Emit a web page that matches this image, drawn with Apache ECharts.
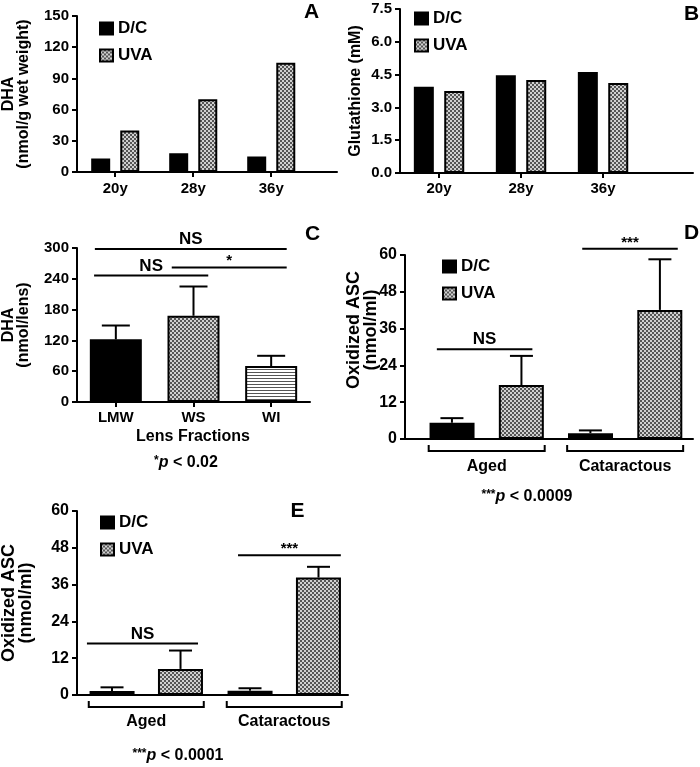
<!DOCTYPE html>
<html><head><meta charset="utf-8">
<script src="https://cdn.jsdelivr.net/npm/echarts@6/dist/echarts.min.js"></script>
<style>html,body{margin:0;padding:0;background:#fff}#c{width:700px;height:767px}</style>
</head><body><div id="c"></div>
<script>
// ---------------- data ----------------
const ageCats = ['20y', '28y', '36y'];
const dhaDC = [13, 18, 15];
const dhaUVA = [40, 70, 105];
const gshDC = [3.95, 4.47, 4.62];
const gshUVA = [3.75, 4.25, 4.12];
const fracCats = ['LMW', 'WS', 'WI'];
const fracDHA = [122, 168, 70];
const fracErr = [27, 57, 20];
const groupCats = ['Aged', 'Cataractous'];
const dDC = [5.3, 1.9];
const dDCerr = [1.5, 0.9];
const dUVA = [17.6, 42.1];
const dUVAerr = [9.5, 16.5];
const eDC = [1.3, 1.4];
const eDCerr = [1.2, 0.8];
const eUVA = [8.5, 38.3];
const eUVAerr = [6.0, 3.5];
const sigC = [
  {from: -0.27, to: 2.2, y: 298, text: 'NS'},
  {from: -0.28, to: 1.19, y: 246.6, text: 'NS'},
  {from: 0.72, to: 2.2, y: 262, text: '*'}
];
const sigD = [
  {from: -0.36, to: 0.33, y: 29.3, text: 'NS'},
  {from: 0.69, to: 1.38, y: 62, text: '***'}
];
const sigE = [
  {from: -0.43, to: 0.375, y: 16.8, text: 'NS'},
  {from: 0.665, to: 1.41, y: 45.6, text: '***'}
];

// ---------------- styles ----------------
const FONT = '"Liberation Sans", Arial, sans-serif';
function checker() {
  const c = document.createElement('canvas'); c.width = 4; c.height = 4;
  const g = c.getContext('2d');
  g.fillStyle = '#d0d0d0'; g.fillRect(0, 0, 4, 4);
  g.fillStyle = '#555555'; g.fillRect(0, 0, 2, 2); g.fillRect(2, 2, 2, 2);
  return c;
}
function stripes() {
  const c = document.createElement('canvas'); c.width = 4; c.height = 3;
  const g = c.getContext('2d');
  g.fillStyle = '#ffffff'; g.fillRect(0, 0, 4, 3);
  g.fillStyle = '#555555'; g.fillRect(0, 0, 4, 1);
  return c;
}
const UVA_FILL = {image: checker(), repeat: 'repeat'};
const WI_FILL = {image: stripes(), repeat: 'repeat'};
const BLACK = '#000';
const idx = a => a.map((v, i) => [i, v]);

function xAx(gi, min, max, cats, ticks, margin, fs) {
  return {
    type: 'value', gridIndex: gi, min: min, max: max,
    axisLine: {show: true, onZero: false, lineStyle: {color: BLACK, width: 2}},
    axisTick: {show: ticks, customValues: cats.map((c, i) => i), length: 5, lineStyle: {color: BLACK, width: 2}},
    axisLabel: {customValues: cats.map((c, i) => i), formatter: v => cats[Math.round(v)],
      margin: margin, color: BLACK, fontSize: fs, fontWeight: 'bold', fontFamily: FONT},
    splitLine: {show: false}
  };
}
function yAx(gi, max, interval, name, gap, fs, nfs, lh, fmt, pad) {
  return {
    type: 'value', gridIndex: gi, min: 0, max: max, interval: interval,
    name: name, nameLocation: 'middle', nameRotate: 90, nameGap: gap, nameMoveOverlap: false,
    nameTextStyle: {color: BLACK, fontSize: nfs, fontWeight: 'bold', fontFamily: FONT, lineHeight: lh, padding: pad || 0},
    axisLine: {show: true, onZero: false, lineStyle: {color: BLACK, width: 2}},
    axisTick: {show: true, length: 5, lineStyle: {color: BLACK, width: 2}},
    axisLabel: {margin: 8, color: BLACK, fontSize: fs, fontWeight: 'bold', fontFamily: FONT, formatter: fmt},
    splitLine: {show: false}
  };
}
function bar(gi, name, data, color, bw, gap) {
  return {
    type: 'bar', name: name, xAxisIndex: gi, yAxisIndex: gi, data: idx(data),
    barWidth: bw, barGap: gap, silent: true, z: 2,
    itemStyle: {color: color, borderColor: BLACK, borderWidth: 2}
  };
}
function errSeries(gi, vals, errs, off, cap) {
  return {
    type: 'custom', coordinateSystem: 'cartesian2d', xAxisIndex: gi, yAxisIndex: gi, silent: true, z: 3,
    data: vals.map((v, i) => [i, v, errs[i]]),
    renderItem: (p, api) => {
      const b = api.coord([api.value(0), api.value(1)]);
      const t = api.coord([api.value(0), api.value(1) + api.value(2)]);
      const x = b[0] + off;
      return {type: 'group', children: [
        {type: 'line', shape: {x1: x, y1: b[1], x2: x, y2: t[1]}, style: {stroke: BLACK, lineWidth: 2}},
        {type: 'line', shape: {x1: x - cap, y1: t[1], x2: x + cap, y2: t[1]}, style: {stroke: BLACK, lineWidth: 2}}
      ]};
    }
  };
}
function sigSeries(gi, sigs, fs) {
  return {
    type: 'custom', coordinateSystem: 'cartesian2d', xAxisIndex: gi, yAxisIndex: gi, silent: true, z: 4, clip: false,
    data: sigs.map(s => [s.from, s.y, s.to]),
    renderItem: (p, api) => {
      const a = api.coord([api.value(0), api.value(1)]);
      const b = api.coord([api.value(2), api.value(1)]);
      const s = sigs[p.dataIndex];
      const star = s.text.indexOf('*') >= 0;
      return {type: 'group', children: [
        {type: 'line', shape: {x1: a[0], y1: a[1], x2: b[0], y2: b[1]}, style: {stroke: BLACK, lineWidth: 2}},
        {type: 'text', x: (a[0] + b[0]) / 2, y: star ? a[1] + 1 : a[1] - 1,
          style: {text: s.text, align: 'center', verticalAlign: 'bottom',
            font: 'bold ' + (star ? fs - 2 : fs) + 'px ' + FONT, fill: BLACK}}
      ]};
    }
  };
}
function bracketSeries(gi, half) {
  return {
    type: 'custom', coordinateSystem: 'cartesian2d', xAxisIndex: gi, yAxisIndex: gi, silent: true, clip: false,
    data: groupCats.map((c, i) => [i, 0]),
    renderItem: (p, api) => {
      const c = api.coord([api.value(0), 0]);
      return {type: 'polyline', shape: {points: [[c[0] - half, c[1] + 6], [c[0] - half, c[1] + 12], [c[0] + half, c[1] + 12], [c[0] + half, c[1] + 6]]},
        style: {stroke: BLACK, lineWidth: 2, fill: null}};
    }
  };
}
function legend(left, top) {
  return {
    data: ['D/C', 'UVA'], orient: 'vertical', left: left, top: top, padding: 0,
    itemWidth: 13, itemHeight: 12, itemGap: 10, selectedMode: false, icon: 'rect',
    textStyle: {color: BLACK, fontSize: 17, fontWeight: 'bold', fontFamily: FONT, lineHeight: 12}
  };
}
function txt(x, y, text, fs, rich) {
  return {type: 'text', x: x, y: y, silent: true,
    style: {text: text, align: 'center', verticalAlign: 'middle', font: 'bold ' + fs + 'px ' + FONT, fill: BLACK, rich: rich}};
}
const pRich = {
  s: {fontSize: 12, fontWeight: 'bold', fontFamily: FONT, verticalAlign: 'top', lineHeight: 12, padding: [0, 0, 6, 0]},
  i: {fontSize: 16, fontWeight: 'bold', fontStyle: 'italic', fontFamily: FONT},
  n: {fontSize: 16, fontWeight: 'bold', fontFamily: FONT}
};
function grid(l, t, w, h) {
  return {left: l, top: t, width: w, height: h, containLabel: false, outerBoundsMode: 'none'};
}

const option = {
  animation: false,
  backgroundColor: '#fff',
  grid: [
    grid(77, 16, 260, 156),
    grid(400, 9, 293, 164),
    grid(77, 248, 233, 154),
    grid(405, 255, 288, 184),
    grid(77, 511, 271, 184)
  ],
  xAxis: [
    xAx(0, -0.49, 2.843, ageCats, true, 9, 15),
    xAx(1, -0.476, 3.097, ageCats, true, 8, 15),
    xAx(2, -0.5, 2.5, fracCats, true, 8, 15),
    xAx(3, -0.59, 1.49, groupCats, false, 20, 16),
    xAx(4, -0.502, 1.462, groupCats, false, 19, 16)
  ],
  yAxis: [
    yAx(0, 150, 30, 'DHA\n(nmol/g wet weight)', 46, 15, 16, 15),
    yAx(1, 7.5, 1.5, 'Glutathione (mM)', 35, 15, 16, 18, v => v.toFixed(1)),
    yAx(2, 300, 60, 'DHA\n(nmol/lens)', 46, 15, 16, 15),
    yAx(3, 60, 12, 'Oxidized ASC\n(nmol/ml)', 25, 16, 18, 17, undefined, [0, 0, 0, 34]),
    yAx(4, 60, 12, 'Oxidized ASC\n(nmol/ml)', 42, 16, 18, 17)
  ],
  legend: [legend(99, 20), legend(414, 10), legend(442, 258), legend(100, 514)],
  series: [
    bar(0, 'D/C', dhaDC, BLACK, 19, '53%'),
    bar(0, 'UVA', dhaUVA, UVA_FILL, 19, '53%'),
    bar(1, 'D/C', gshDC, BLACK, 20, '52%'),
    bar(1, 'UVA', gshUVA, UVA_FILL, 20, '52%'),
    {
      type: 'bar', name: 'Fractions', xAxisIndex: 2, yAxisIndex: 2, barWidth: 52, silent: true, z: 2,
      data: fracDHA.map((v, i) => ({value: [i, v], itemStyle: {color: [BLACK, UVA_FILL, WI_FILL][i]}})),
      itemStyle: {borderColor: BLACK, borderWidth: 2}
    },
    errSeries(2, fracDHA, fracErr, 0, 14),
    sigSeries(2, sigC, 17),
    bar(3, 'D/C', dDC, BLACK, 45, '54%'),
    bar(3, 'UVA', dUVA, UVA_FILL, 45, '54%'),
    errSeries(3, dDC, dDCerr, -34.75, 11.5),
    errSeries(3, dUVA, dUVAerr, 34.75, 11.5),
    sigSeries(3, sigD, 17),
    bracketSeries(3, 58),
    bar(4, 'D/C', eDC, BLACK, 45, '52%'),
    bar(4, 'UVA', eUVA, UVA_FILL, 45, '52%'),
    errSeries(4, eDC, eDCerr, -34.25, 11.5),
    errSeries(4, eUVA, eUVAerr, 34.25, 11.5),
    sigSeries(4, sigE, 17),
    bracketSeries(4, 57.5)
  ],
  graphic: [
    txt(311.5, 12.5, 'A', 21),
    txt(691.5, 14.5, 'B', 21),
    txt(312.5, 234.5, 'C', 21),
    txt(691.5, 233.5, 'D', 21),
    txt(297.5, 511, 'E', 21),
    txt(193, 437, 'Lens Fractions', 16),
    txt(186, 463, '{s|*}{i|p}{n| < 0.02}', 16, pRich),
    txt(527, 497, '{s|***}{i|p}{n| < 0.0009}', 16, pRich),
    txt(178, 756, '{s|***}{i|p}{n| < 0.0001}', 16, pRich)
  ]
};
const chart = echarts.init(document.getElementById('c'), null, {renderer: 'canvas'});
chart.setOption(option);
</script>
</body></html>
